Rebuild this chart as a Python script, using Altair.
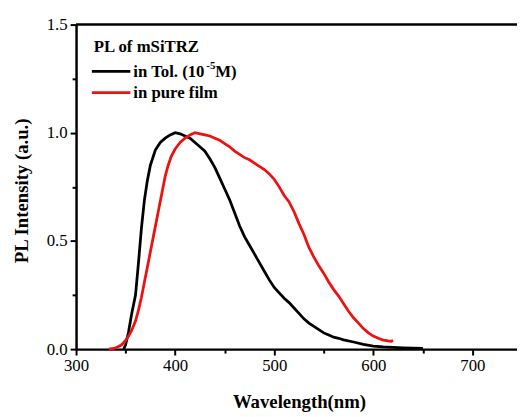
import altair as alt
import pandas as pd

# ---- data ----
tol_nm = [348, 350, 353, 356, 360, 363, 366, 369, 372, 375, 380, 385, 390, 395, 400,
          405, 410, 415, 420, 425, 430, 435, 440, 445, 450, 455, 460, 465, 470, 475,
          480, 485, 490, 495, 500, 505, 510, 515, 520, 525, 530, 535, 540, 545, 550,
          555, 560, 565, 570, 580, 590, 600, 610, 620, 630, 640, 650]
tol_int = [0.0, 0.02, 0.08, 0.16, 0.25, 0.40, 0.56, 0.69, 0.78, 0.85, 0.92, 0.955, 0.975, 0.99, 1.0,
           0.995, 0.985, 0.975, 0.955, 0.935, 0.915, 0.88, 0.84, 0.79, 0.74, 0.69, 0.63, 0.57, 0.52, 0.48,
           0.44, 0.40, 0.36, 0.32, 0.285, 0.26, 0.235, 0.215, 0.19, 0.165, 0.14, 0.12, 0.105, 0.09, 0.075,
           0.065, 0.055, 0.05, 0.043, 0.033, 0.022, 0.014, 0.01, 0.008, 0.006, 0.005, 0.003]

film_nm = [333, 338, 342, 346, 350, 353, 356, 360, 363, 366, 369, 372, 375, 378, 381,
           384, 387, 390, 393, 396, 400, 405, 410, 415, 420, 425, 430, 435, 440, 445,
           450, 455, 460, 465, 470, 475, 480, 485, 490, 495, 500, 505, 510, 515, 520,
           525, 530, 535, 540, 545, 550, 555, 560, 565, 570, 575, 580, 585, 590, 595,
           600, 605, 610, 615, 618, 620]
film_int = [0.0, 0.003, 0.01, 0.02, 0.04, 0.06, 0.085, 0.13, 0.18, 0.24, 0.31, 0.38, 0.45, 0.52, 0.59,
            0.66, 0.73, 0.80, 0.85, 0.89, 0.925, 0.955, 0.975, 0.99, 1.0, 0.995, 0.99, 0.985, 0.975, 0.965,
            0.95, 0.935, 0.915, 0.90, 0.885, 0.875, 0.86, 0.845, 0.83, 0.81, 0.785, 0.75, 0.71, 0.68, 0.635,
            0.58, 0.53, 0.47, 0.425, 0.385, 0.35, 0.31, 0.275, 0.245, 0.21, 0.175, 0.145, 0.12, 0.095, 0.075,
            0.06, 0.05, 0.042, 0.038, 0.036, 0.04]

x_ticks = [300, 350, 400, 450, 500, 550, 600, 650, 700]
y_ticks = [0.0, 0.25, 0.5, 0.75, 1.0, 1.25, 1.5]

legend_title = "PL of mSiTRZ"
label_tol_a = "in Tol. (10"
label_tol_sup = "-5"
label_tol_b = "M)"
label_film = "in pure film"

W, H = 447, 329
FONT = "Liberation Serif"
BLACK = "#000000"
RED = "#ee1111"

tol_df = pd.DataFrame({"nm": tol_nm, "I": tol_int})
film_df = pd.DataFrame({"nm": film_nm, "I": film_int})

xscale = alt.Scale(domain=[300, 745], nice=False, zero=False)
yscale = alt.Scale(domain=[0, 1.5], nice=False)

xaxis = alt.Axis(
    values=x_ticks, title="Wavelength(nm)", format="d",
    labelExpr="datum.value % 100 === 0 ? datum.label : ''",
    tickSize={"condition": {"test": "datum.value % 100 === 0", "value": 6}, "value": 4},
    titleX=226, titleY=53, titleBaseline="middle", titleAnchor="middle",
    labelPadding=3, labelFlush=False, labelOverlap=False,
    labelFont=FONT, labelFontSize=17, titleFont=FONT,
)
yaxis = alt.Axis(
    values=y_ticks, title="PL Intensity (a.u.)", format=".1f",
    labelExpr="abs(datum.value * 2 - round(datum.value * 2)) < 0.01 ? datum.label : ''",
    tickSize={"condition": {"test": "abs(datum.value * 2 - round(datum.value * 2)) < 0.01", "value": 6}, "value": 4},
    titleX=-55, titleY=168, titleBaseline="middle", titleAngle=-90,
    labelPadding=3, labelFlush=False, labelOverlap=False,
    labelFont=FONT, labelFontSize=17, titleFont=FONT,
)

tol = alt.Chart(tol_df).mark_line(color=BLACK, strokeWidth=2.8).encode(
    x=alt.X("nm:Q", scale=xscale, axis=xaxis),
    y=alt.Y("I:Q", scale=yscale, axis=yaxis),
)
film = alt.Chart(film_df).mark_line(color=RED, strokeWidth=2.8).encode(
    x=alt.X("nm:Q", scale=xscale),
    y=alt.Y("I:Q", scale=yscale),
)

one = alt.Data(values=[{"a": 1}])

top_frame = alt.Chart(one).mark_rule(color=BLACK, strokeWidth=2.5).encode(
    x=alt.value(0), x2=alt.value(W), y=alt.value(0)
)

leg_black = alt.Chart(one).mark_rule(color=BLACK, strokeWidth=2.8).encode(
    x=alt.value(16), x2=alt.value(55), y=alt.value(47.5)
)
leg_red = alt.Chart(one).mark_rule(color=RED, strokeWidth=2.8).encode(
    x=alt.value(16), x2=alt.value(55), y=alt.value(69)
)

def txt(s, x, y, size=17):
    return alt.Chart(one).mark_text(
        text=s, font=FONT, fontSize=size, fontWeight="bold", color=BLACK,
        align="left", baseline="middle"
    ).encode(x=alt.value(x), y=alt.value(y))

t_title = txt(legend_title, 18, 23)
t_tol_a = txt(label_tol_a, 58, 48)
t_tol_sup = txt(label_tol_sup, 132, 42, size=11)
t_tol_b = txt(label_tol_b, 141, 48)
t_film = txt(label_film, 58, 69)

chart = alt.layer(
    tol, film, top_frame, leg_black, leg_red,
    t_title, t_tol_a, t_tol_sup, t_tol_b, t_film,
).properties(
    width=W, height=H,
    autosize=alt.AutoSizeParams(type="none"),
    padding={"left": 69, "top": 14, "right": 0, "bottom": 66},
    background="white",
).configure_view(
    stroke=None
).configure_axis(
    grid=False,
    domainColor=BLACK, domainWidth=2.5,
    tickColor=BLACK, tickWidth=2,
    labelFont=FONT, labelFontSize=17, labelColor=BLACK,
    titleFont=FONT, titleFontSize=19, titleFontWeight="bold", titleColor=BLACK,
)

chart.save("out.html", embed_options={"renderer": "svg", "actions": False})
